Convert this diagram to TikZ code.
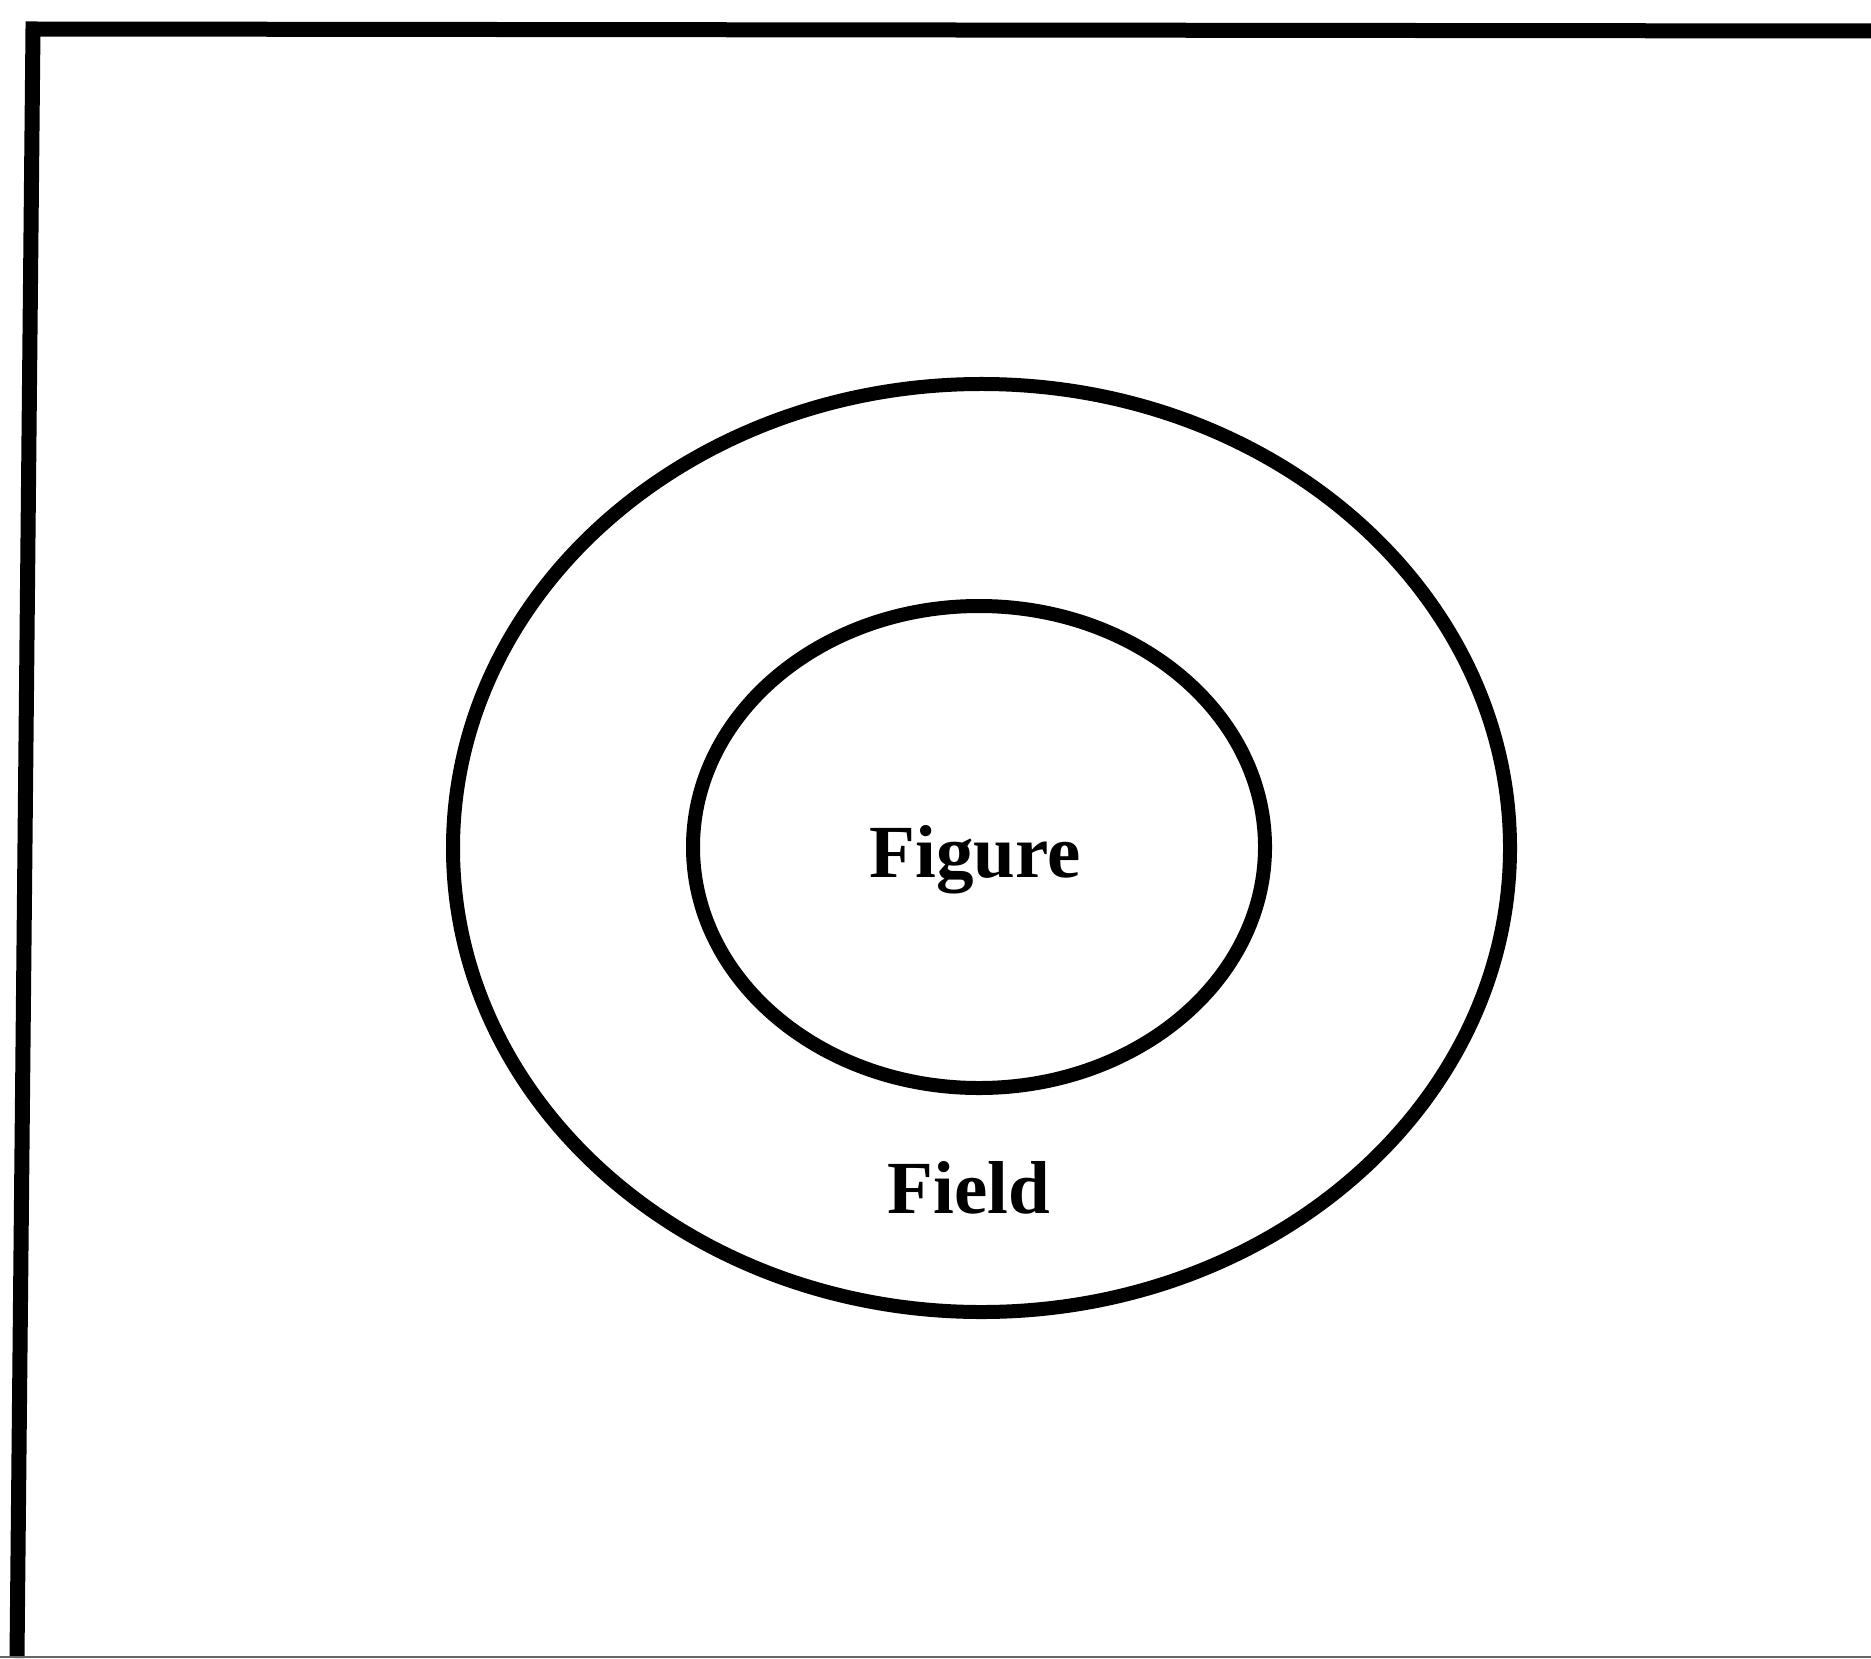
\documentclass[tikz,border=0pt]{standalone}
\usepackage{fontspec}
\setmainfont{Liberation Serif}
\usetikzlibrary{shapes.geometric}
\begin{document}
\begin{tikzpicture}[x=0.4pt,y=-0.4pt,
  ring/.style={draw=black,ellipse,line width=5.6pt,inner sep=0pt,outer sep=0pt},
  label/.style={font=\fontsize{30}{36}\selectfont\bfseries,anchor=base,inner sep=0pt},
  framepen/.style={line width=6pt,line cap=butt,line join=miter}]
\useasboundingbox (0,0) rectangle (1871,1658);
\fill[white] (0,0) rectangle (1871,1658);
% frame
\coordinate (fbl) at (17,1658);
\coordinate (ftl) at (33,29);
\coordinate (ftr) at (1871,31);
\draw[framepen] (fbl) -- (ftl) -- (ftr);
\coordinate (bl) at (0,1656.5);
\coordinate (br) at (1871,1656.5);
\draw[line width=0.8pt,black!60] (bl) -- (br);
% ellipses
\node[ring,minimum width=422.8pt,minimum height=371.2pt] (outer) at (981.5,848) {};
\node[ring,minimum width=228.8pt,minimum height=192.8pt] (inner) at (979,847) {};
% labels
\node[label] (figure) at (975,877) {Figure};
\node[label] (field) at (969,1213) {Field};
\end{tikzpicture}
\end{document}
